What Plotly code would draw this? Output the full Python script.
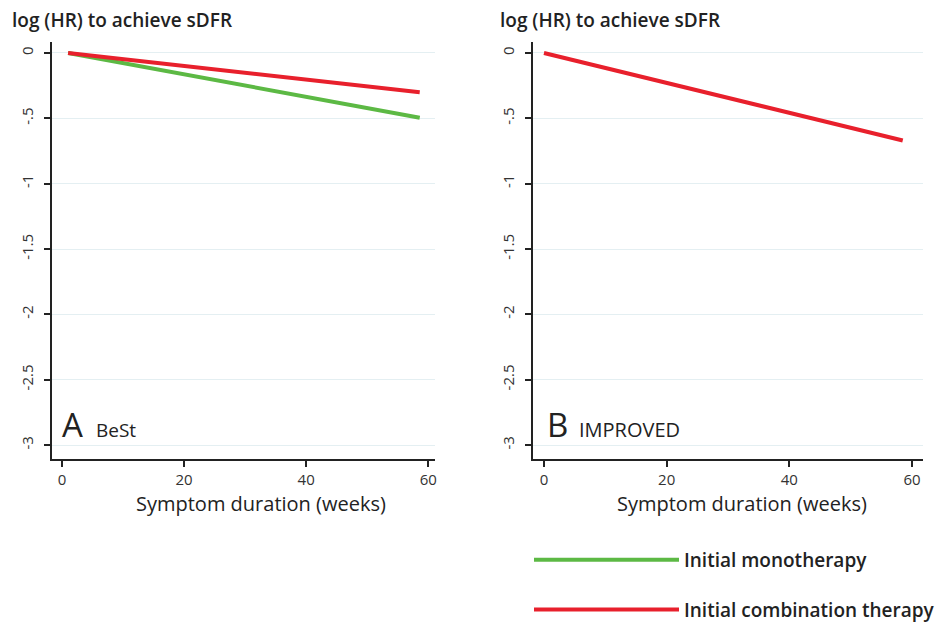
import plotly.graph_objects as go

# ---- data ----
best_weeks = [1, 58.6]
best_mono = [0.0, -0.495]
best_combo = [0.0, -0.30]
improved_weeks = [0, 58.5]
improved_combo = [0.0, -0.67]

y_tickvals = [0, -0.5, -1, -1.5, -2, -2.5, -3]
y_ticktext = ["0", "-.5", "-1", "-1.5", "-2", "-2.5", "-3"]
x_tickvals = [0, 20, 40, 60]

series_names = ["Initial monotherapy", "Initial combination therapy"]
x_title = "Symptom duration (weeks)"
y_title = "log (HR) to achieve sDFR"
GREEN = "#5cb944"
RED = "#e8202c"

W, H = 941, 624
FONT = "Open Sans"

fig = go.Figure()
fig.add_trace(go.Scatter(x=best_weeks, y=best_mono, mode="lines", name=series_names[0],
                         line=dict(color=GREEN, width=4), xaxis="x", yaxis="y",
                         legendgroup="a", showlegend=True))
fig.add_trace(go.Scatter(x=best_weeks, y=best_combo, mode="lines", name=series_names[1],
                         line=dict(color=RED, width=4), xaxis="x", yaxis="y",
                         legendgroup="b", showlegend=True))
fig.add_trace(go.Scatter(x=improved_weeks, y=improved_combo, mode="lines", name=series_names[1],
                         line=dict(color=RED, width=4), xaxis="x2", yaxis="y2",
                         showlegend=False))

def px_x(p):
    return p / W

def px_y(p):
    return 1 - p / H

yax = dict(range=[-3.107, 0.084], tickvals=y_tickvals, ticktext=y_ticktext,
           tickangle=-90, ticks="outside", ticklen=6, tickwidth=2, tickcolor="#222",
           ticklabelstandoff=5,
           showline=True, linecolor="#222", linewidth=2,
           showgrid=True, gridcolor="#e4eff2", gridwidth=1, zeroline=False,
           tickfont=dict(family=FONT, size=15, color="#333"))
xax = dict(tickvals=x_tickvals, ticks="outside", ticklen=6, tickwidth=2, tickcolor="#222",
           showline=True, linecolor="#222", linewidth=2, showgrid=False, zeroline=False,
           tickfont=dict(family=FONT, size=15, color="#333"))

fig.update_layout(
    width=W, height=H,
    margin=dict(l=0, r=0, t=0, b=0, autoexpand=False),
    paper_bgcolor="white", plot_bgcolor="white",
    xaxis=dict(xax, domain=[px_x(52), px_x(435)], range=[-1.64, 61.1], anchor="y"),
    yaxis=dict(yax, domain=[px_y(459), px_y(42)], anchor="x"),
    xaxis2=dict(xax, domain=[px_x(533), px_x(923)], range=[-1.79, 61.8], anchor="y2"),
    yaxis2=dict(yax, domain=[px_y(459), px_y(42)], anchor="x2"),
    showlegend=True,
    legend=dict(x=px_x(529), y=px_y(541), xanchor="left", yanchor="top",
                itemwidth=145, tracegroupgap=22, traceorder="grouped",
                font=dict(family=FONT, size=19, color="#222", weight=600),
                bgcolor="rgba(0,0,0,0)"),
)

title_font = dict(family=FONT, size=19, color="#222", weight=600)
for tx in (10, 498):
    fig.add_annotation(text=y_title, xref="paper", yref="paper",
                       x=px_x(tx), y=px_y(20), xanchor="left", yanchor="middle",
                       showarrow=False, font=title_font)

for cx in (261, 742):
    fig.add_annotation(text=x_title, xref="paper", yref="paper",
                       x=px_x(cx), y=px_y(503), xanchor="center", yanchor="middle",
                       showarrow=False, font=dict(family=FONT, size=20, color="#222"))

fig.add_annotation(text="A", xref="paper", yref="paper", x=px_x(60), y=px_y(449),
                   xanchor="left", yanchor="bottom", showarrow=False,
                   font=dict(family=FONT, size=33, color="#222"))
fig.add_annotation(text="BeSt", xref="paper", yref="paper", x=px_x(94), y=px_y(445),
                   xanchor="left", yanchor="bottom", showarrow=False,
                   font=dict(family=FONT, size=19, color="#222"))
fig.add_annotation(text="B", xref="paper", yref="paper", x=px_x(545), y=px_y(449),
                   xanchor="left", yanchor="bottom", showarrow=False,
                   font=dict(family=FONT, size=33, color="#222"))
fig.add_annotation(text="IMPROVED", xref="paper", yref="paper", x=px_x(577), y=px_y(445),
                   xanchor="left", yanchor="bottom", showarrow=False,
                   font=dict(family=FONT, size=20, color="#222"))

fig.write_html("out.html", config={"displayModeBar": False},
               post_script="document.body.style.margin='0';")
